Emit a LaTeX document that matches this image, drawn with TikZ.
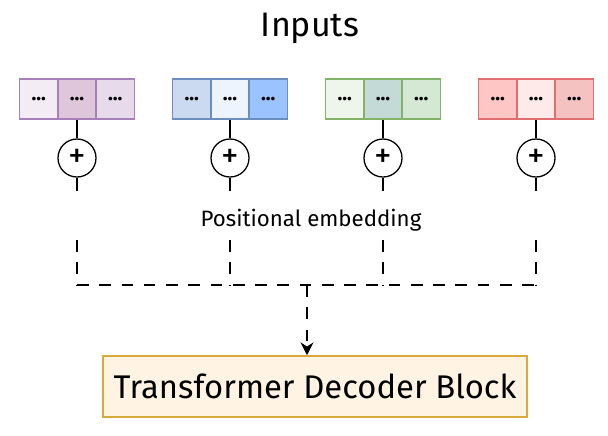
\documentclass[tikz,border=0pt]{standalone}
\usepackage{fontspec}
\setmainfont{Fira Sans}
\usetikzlibrary{calc,arrows.meta}
\definecolor{purpB}{HTML}{A680B8}
\definecolor{purpA}{HTML}{F3ECF5}
\definecolor{purpM}{HTML}{E0C6DA}
\definecolor{purpC}{HTML}{E7DBEB}
\definecolor{blueB}{HTML}{6C8EBF}
\definecolor{blueA}{HTML}{CBDAF0}
\definecolor{blueM}{HTML}{EEF4FD}
\definecolor{blueC}{HTML}{9AC3FF}
\definecolor{greenB}{HTML}{82B366}
\definecolor{greenA}{HTML}{EEF5EA}
\definecolor{greenM}{HTML}{C3DAD6}
\definecolor{greenC}{HTML}{D5E8D4}
\definecolor{redB}{HTML}{E07070}
\definecolor{redA}{HTML}{FFC6C6}
\definecolor{redM}{HTML}{FFEAEA}
\definecolor{redC}{HTML}{F5C2C2}
\definecolor{decFill}{HTML}{FFF3E3}
\definecolor{decDraw}{HTML}{D9A93C}

\begin{document}
\begin{tikzpicture}[x=0.03cm, y=-0.03cm, >={Stealth[length=11pt,width=11pt]},
		cell/.style={draw, line width=1.2pt, minimum width=1.14cm, minimum height=1.2cm, inner sep=0pt, font=\fontsize{17}{17}\selectfont\bfseries},
		addop/.style={draw, circle, line width=1.1pt, minimum size=1.14cm, inner sep=0pt, font=\fontsize{30}{30}\selectfont},
		link/.style={line width=1.1pt},
		dashlink/.style={line width=1.1pt, dash pattern=on 10pt off 9pt}]
		\useasboundingbox (0,0) rectangle (608,435);
		% title
		\node (title) at (310,28) {\fontsize{29}{29}\selectfont Inputs};
		% input tokens, adders and links
		\foreach \i/\g/\cb/\ca/\cm/\cc in {1/77/purpB/purpA/purpM/purpC, 2/230/blueB/blueA/blueM/blueC, 3/383/greenB/greenA/greenM/greenC, 4/536/redB/redA/redM/redC} {
			\node[cell, draw=\cb, fill=\ca] (in\i l) at (\g-38.3,99) {...};
			\node[cell, draw=\cb, fill=\cc] (in\i r) at (\g+38.3,99) {...};
			\node[cell, draw=\cb, fill=\cm] (in\i m) at (\g,99) {...};
			\node[addop] (add\i) at (\g,158) {+};
			\coordinate (stub\i) at (\g,191);
			\coordinate (pe\i) at (\g,240);
			\coordinate (bus\i) at (\g,285);
			\draw[link] (in\i m) -- (add\i);
			\draw[link] (add\i) -- (stub\i);
			\draw[dashlink] (pe\i) -- (bus\i);
		}
		% positional embedding label
		\node (pelabel) at (311,220) {\fontsize{19}{19}\selectfont Positional embedding};
		% bus and arrow to decoder
		\draw[dashlink] (bus1) -- (bus4);
		\coordinate (merge) at (307,285);
		\node[draw=decDraw, fill=decFill, line width=1.3pt, minimum width=12.72cm, minimum height=1.83cm] (dec) at (315,386.5) {\fontsize{28}{28}\selectfont Transformer Decoder Block};
		\draw[dashlink, ->] (merge) -- (merge |- dec.north);
	\end{tikzpicture}
\end{document}
